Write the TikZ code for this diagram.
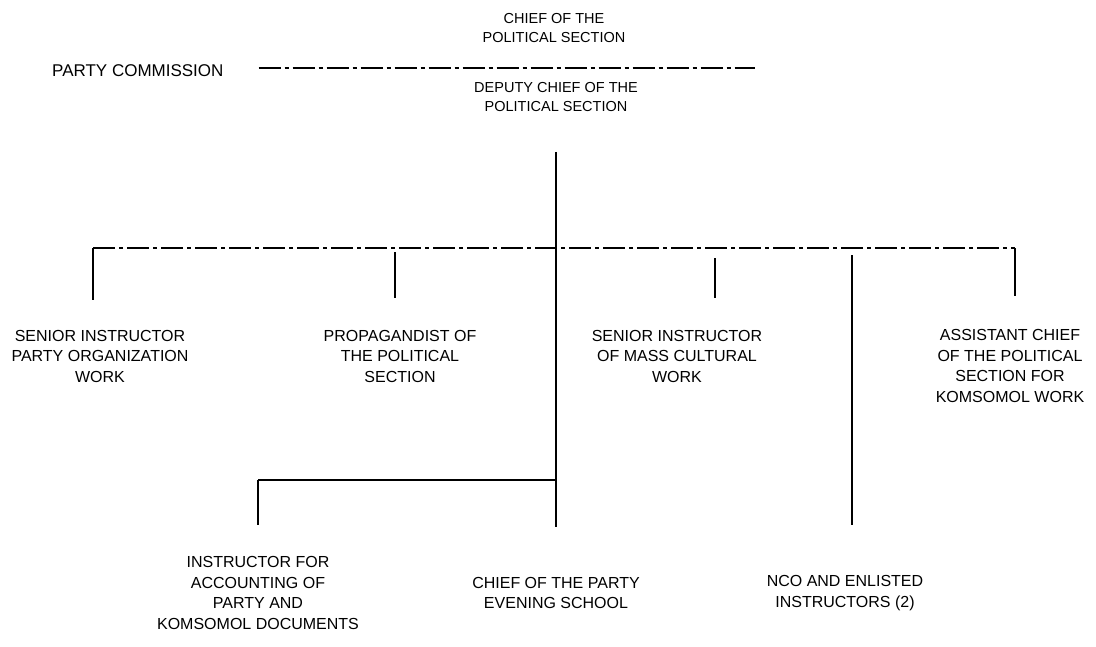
\documentclass[tikz,border=0pt]{standalone}
\usepackage{fontspec}
\setmainfont{Liberation Sans}
\usetikzlibrary{calc}

\begin{document}
\begin{tikzpicture}[x=1pt, y=-1pt, font=\fontsize{16}{20.5}\selectfont,
		every node/.style={align=center, inner sep=0pt},
		head/.style={font=\fontsize{14.5}{19}\selectfont},
		trunk/.style={line width=2.4pt},
		bar/.style={line width=1.6pt, dash pattern=on 22pt off 4pt on 4pt off 4pt}]
		\useasboundingbox (0,0) rectangle (1096,646);
		% Draw the head of the section
		\node (chief) [head] at (554,28) {CHIEF OF THE\\POLITICAL SECTION};
		\node (deputy) [head] at (556,97) {DEPUTY CHIEF OF THE\\POLITICAL SECTION};
		\node (commission) [anchor=west, font=\fontsize{17}{20}\selectfont] at (52,71) {PARTY COMMISSION};
		\coordinate (commend) at (755,68);
		
		% Draw the first row of posts
		\node (orgwork) at (100,356) {SENIOR INSTRUCTOR\\PARTY ORGANIZATION\\WORK};
		\node (propagandist) at (400,356) {PROPAGANDIST OF\\THE POLITICAL\\SECTION};
		\node (culture) at (677,356) {SENIOR INSTRUCTOR\\OF MASS CULTURAL\\WORK};
		\node (komsomol) at (1010,366) {ASSISTANT CHIEF\\OF THE POLITICAL\\SECTION FOR\\KOMSOMOL WORK};
		
		% Draw the second row of posts
		\node (accounting) at (258,593) {INSTRUCTOR FOR\\ACCOUNTING OF\\PARTY AND\\KOMSOMOL DOCUMENTS};
		\node (school) at (556,593) {CHIEF OF THE PARTY\\EVENING SCHOOL};
		\node (nco) at (845,593) {NCO AND ENLISTED\\INSTRUCTORS (2)};
		
		% Draw the bars
		\coordinate (barleft) at (93,248);
		\coordinate (barright) at (1015,248);
		\coordinate (propdrop) at (395,252);
		\coordinate (culturedrop) at (715,258);
		\coordinate (ncodrop) at (852,255);
		\coordinate (branch) at (555,480);
		\coordinate (accdrop) at (258,480);
		
		% Connect the posts with lines
		\draw[bar, shorten <=35pt] (commission.east |- commend) -- (commend);
		\draw[trunk, shorten <=40pt, shorten >=50pt] (deputy.south) -- (school.north);
		\draw[bar] (barleft) -- (barright);
		\draw[trunk] (barleft) -- (barleft |- 0,300);
		\draw[trunk] (barright) -- (barright |- 0,296);
		\draw[trunk] (propdrop) -- (propdrop |- 0,298);
		\draw[trunk] (culturedrop) -- (culturedrop |- 0,298);
		\draw[trunk] (ncodrop) -- (ncodrop |- 0,525);
		\draw[line width=2pt] (branch) -- (accdrop);
		\draw[trunk] (accdrop) -- (accdrop |- 0,525);
	\end{tikzpicture}
\end{document}
